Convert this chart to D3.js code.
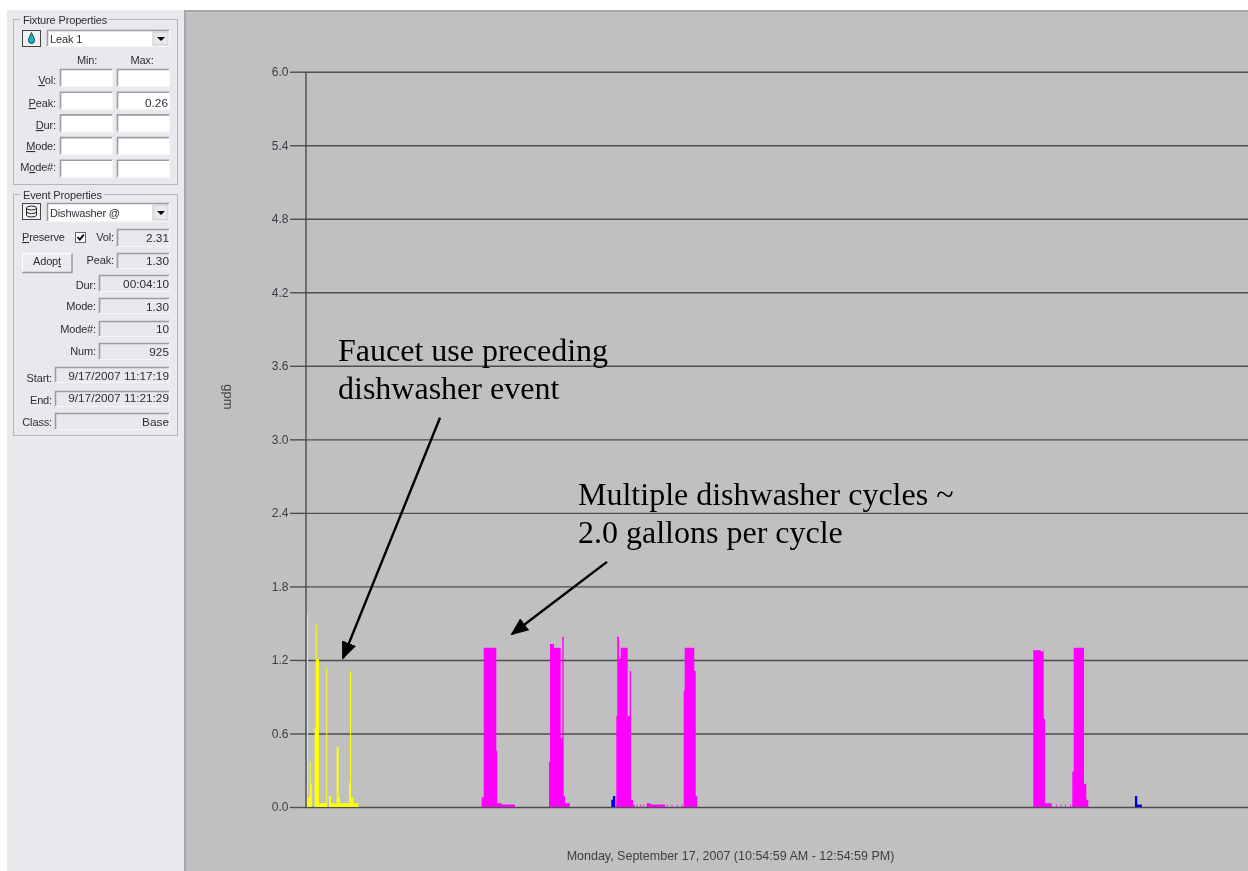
<!DOCTYPE html>
<html>

<head>
    <meta charset="utf-8">
    <title>Dishwasher flow trace</title>
    <script src="https://d3js.org/d3.v7.min.js"></script>
    <style>
        html, body { margin: 0; padding: 0; background: #fff; overflow: hidden; }
        svg { display: block; }
        text { font-family: "Liberation Sans", Arial, sans-serif; }
    </style>
</head>

<body>
    <svg id="chart" width="1248" height="871"></svg>

    <script>
        // y axis ticks, gpm
        const yTicks = [0.0, 0.6, 1.2, 1.8, 2.4, 3.0, 3.6, 4.2, 4.8, 5.4, 6.0];

        // flow bars: [start minute after 10:54:59, end minute, gpm]
        const faucetBars = [
            [0.13, 0.72, 0.08], [0.13, 0.25, 1.58], [0.46, 0.59, 0.37], [0.59, 0.72, 0.19],
            [1.09, 1.63, 0.65], [1.22, 1.34, 1.49], [1.34, 1.63, 1.21], [1.63, 2.67, 0.03],
            [2.55, 2.67, 1.14], [2.89, 3.14, 0.09], [3.14, 6.57, 0.03], [3.85, 4.10, 0.49],
            [3.98, 4.27, 0.08], [5.40, 5.65, 0.20], [5.52, 5.65, 1.11], [5.65, 5.94, 0.08]
        ];
        const dishwasherBars = [
            [22.05, 22.31, 0.08], [22.31, 23.89, 1.30], [23.89, 24.01, 0.46], [24.01, 24.56, 0.03], [24.56, 26.23, 0.02],
            [30.50, 30.63, 0.37], [30.63, 31.13, 1.33], [31.13, 31.97, 1.30], [31.97, 32.34, 0.56], [32.17, 32.34, 1.39],
            [32.34, 32.51, 0.09], [32.51, 33.14, 0.03],
            [38.95, 39.07, 0.74], [39.07, 39.29, 1.39], [39.29, 39.50, 1.21], [39.50, 40.38, 1.30], [40.38, 40.80, 0.74],
            [40.63, 40.80, 1.11], [40.80, 41.05, 0.06], [41.05, 41.23, 0.02],
            [41.51, 41.61, 0.02], [41.92, 42.02, 0.02], [42.34, 42.44, 0.02],
            [42.76, 43.26, 0.03], [43.26, 45.06, 0.02],
            [45.28, 45.38, 0.02], [45.90, 46.00, 0.02], [46.53, 46.63, 0.02], [47.16, 47.26, 0.02],
            [47.41, 47.53, 0.95], [47.53, 48.74, 1.30], [48.74, 48.92, 1.11], [48.92, 49.12, 0.09],
            [91.29, 92.22, 1.28], [92.22, 92.60, 1.27], [92.60, 92.76, 0.72], [92.76, 93.60, 0.03],
            [94.14, 94.24, 0.02], [94.73, 94.83, 0.02], [95.31, 95.41, 0.02], [95.90, 96.00, 0.02],
            [96.19, 96.37, 0.29], [96.37, 97.66, 1.30], [97.66, 97.95, 0.19], [97.95, 98.20, 0.06]
        ];
        const otherBars = [
            [38.32, 38.53, 0.06], [38.53, 38.82, 0.09],
            [104.05, 104.34, 0.09], [104.34, 104.93, 0.02]
        ];

        const dateLabel = 'Monday, September 17, 2007 (10:54:59 AM - 12:54:59 PM)';
        const faucetNote = ['Faucet use preceding', 'dishwasher event'];
        const cycleNote = ['Multiple dishwasher cycles ~', '2.0 gallons per cycle'];
        // arrows: [from minute, from gpm, to minute, to gpm]
        const noteArrows = [
            [16.82, 3.176, 4.64, 1.216],
            [37.78, 2.00, 25.86, 1.412]
        ];

        // left panel text: [label, underlined letter, min, max]
        const fixtureRows = [
            ['Vol:', 0, '', ''], ['Peak:', 0, '', '0.26'], ['Dur:', 0, '', ''],
            ['Mode:', 0, '', ''], ['Mode#:', 1, '', '']
        ];
        const eventRows = [
            ['Vol:', '2.31'], ['Peak:', '1.30'], ['Dur:', '00:04:10'],
            ['Mode:', '1.30'], ['Mode#:', '10'], ['Num:', '925'],
            ['Start:', '9/17/2007 11:17:19'], ['End:', '9/17/2007 11:21:29'], ['Class:', 'Base']
        ];

        const svg = d3.select('#chart');

        // the reference is a scaled screenshot, so small things are a bit soft
        svg.append('defs').append('filter')
            .attr('id', 'soft').attr('filterUnits', 'userSpaceOnUse')
            .attr('x', 0).attr('y', 0).attr('width', 1248).attr('height', 871)
            .append('feGaussianBlur').attr('stdDeviation', 0.35);

        // backgrounds
        svg.append('rect').attr('x', 7).attr('y', 10).attr('width', 1241).attr('height', 861).attr('fill', '#e9e8ed');
        svg.append('rect').attr('x', 184).attr('y', 10).attr('width', 1064).attr('height', 861).attr('fill', '#a6a6aa');
        svg.append('rect').attr('x', 186).attr('y', 12).attr('width', 1062).attr('height', 859).attr('fill', '#c0c0c0');

        // scales
        const x = d3.scaleLinear().domain([0, 120]).range([306, 1262]);
        const y = d3.scaleLinear().domain([0, 6]).range([807, 71.7]);

        const plot = svg.append('g').attr('filter', 'url(#soft)');

        const gridColor = '#4e4e4e';
        const yAxis = d3.axisLeft(y).tickValues(yTicks).tickFormat(d3.format('.1f')).tickSize(16).tickPadding(1.5);
        const axisG = plot.append('g').attr('transform', 'translate(306,0)').call(yAxis);
        axisG.select('.domain').remove();
        axisG.selectAll('.tick line').attr('stroke', gridColor).attr('stroke-width', 1.4);
        axisG.selectAll('.tick').append('line')
            .attr('x1', 0).attr('x2', x(120) - x(0))
            .attr('stroke', gridColor).attr('stroke-width', 1.4);
        axisG.selectAll('.tick text').attr('fill', '#3c3c46').style('font-size', '12px')
            .style('font-family', '"Liberation Sans", Arial, sans-serif');
        plot.append('line').attr('x1', x(0)).attr('x2', x(0)).attr('y1', y(6)).attr('y2', y(0))
            .attr('stroke', gridColor).attr('stroke-width', 1.4);

        // bars of a series go into one path, abutting rects would leave seams
        function drawBars(bars, color) {
            const p = d3.path();
            bars.forEach(d => p.rect(x(d[0]), y(d[2]), x(d[1]) - x(d[0]), y(0) - y(d[2])));
            plot.append('path').attr('d', p.toString()).attr('fill', color);
        }
        drawBars(faucetBars, '#ffff00');
        drawBars(dishwasherBars, '#ff00ff');
        drawBars(otherBars, '#0000e6');

        // axis titles
        plot.append('text').attr('x', 730.5).attr('y', 860).attr('text-anchor', 'middle')
            .attr('fill', '#3c3c46').style('font-size', '12.5px').text(dateLabel);
        plot.append('text').attr('transform', 'translate(224,397) rotate(90)').attr('text-anchor', 'middle')
            .attr('fill', '#3c3c46').style('font-size', '13px').text('gpm');

        // annotations
        function drawNote(lines, left, firstBase) {
            svg.append('g').selectAll('text').data(lines).join('text')
                .attr('x', left)
                .attr('y', (d, i) => firstBase + i * 38.3)
                .attr('fill', '#000')
                .style('font-family', '"Liberation Serif", "Times New Roman", serif')
                .style('font-size', '32px')
                .text(d => d);
        }
        drawNote(faucetNote, 338, 361);
        drawNote(cycleNote, 578, 505);

        svg.select('defs').append('marker')
            .attr('id', 'arrowHead').attr('viewBox', '0 0 18 15').attr('refX', 16).attr('refY', 7.5)
            .attr('markerUnits', 'userSpaceOnUse').attr('markerWidth', 18).attr('markerHeight', 15)
            .attr('orient', 'auto')
            .append('path').attr('d', 'M0,0L18,7.5L0,15Z').attr('fill', '#000');
        svg.append('g').selectAll('line').data(noteArrows).join('line')
            .attr('x1', d => x(d[0])).attr('y1', d => y(d[1]))
            .attr('x2', d => x(d[2])).attr('y2', d => y(d[3]))
            .attr('stroke', '#000').attr('stroke-width', 2.4)
            .attr('marker-end', 'url(#arrowHead)');

        // ---- left panel ----
        const panel = svg.append('g').attr('filter', 'url(#soft)');
        const textColor = '#2e2e38';

        function label(str, px, py, anchor, under) {
            const t = panel.append('text').attr('x', px).attr('y', py).attr('text-anchor', anchor || 'start')
                .attr('fill', textColor).style('font-size', '11px').style('letter-spacing', '-0.15px');
            if (under === undefined || under < 0) { t.text(str); return t; }
            t.append('tspan').text(str.slice(0, under));
            t.append('tspan').style('text-decoration', 'underline').text(str[under]);
            t.append('tspan').text(str.slice(under + 1));
            return t;
        }

        // numbers sit wider than the labels in the original font
        function value(str, px, py) {
            panel.append('text').attr('x', px).attr('y', py).attr('text-anchor', 'end')
                .attr('fill', textColor).style('font-size', '11.8px').text(str);
        }

        function sunken(x0, y0, w, h, fill) {
            panel.append('rect').attr('x', x0).attr('y', y0).attr('width', w).attr('height', h).attr('fill', fill);
            panel.append('path').attr('d', `M${x0 + .5},${y0 + h}V${y0 + .5}H${x0 + w}`)
                .attr('fill', 'none').attr('stroke', '#9c9ca2').attr('stroke-width', 1.6);
            panel.append('path').attr('d', `M${x0 + w - .5},${y0}V${y0 + h - .5}H${x0}`)
                .attr('fill', 'none').attr('stroke', '#f6f6f8').attr('stroke-width', 1);
        }

        function groupBox(x0, y0, w, h, title, titleWidth) {
            panel.append('rect').attr('x', x0 + .5).attr('y', y0 + .5).attr('width', w).attr('height', h)
                .attr('fill', 'none').attr('stroke', '#b4b4ba');
            panel.append('rect').attr('x', x0 + 7).attr('y', y0 - 2).attr('width', titleWidth).attr('height', 5).attr('fill', '#e9e8ed');
            label(title, x0 + 10, y0 + 5);
        }

        function dropdown(y0, h, str) {
            sunken(47, y0, 123, h, '#fff');
            panel.append('rect').attr('x', 153).attr('y', y0 + 2).attr('width', 15).attr('height', h - 4)
                .attr('fill', '#e9e8ed').attr('stroke', '#c8c8cc');
            const mid = y0 + h / 2;
            panel.append('path').attr('d', `M157,${mid - 1.5}h8l-4,4Z`).attr('fill', '#000');
            label(str, 50, y0 + h / 2 + 4);
        }

        function iconBox(y0) {
            panel.append('rect').attr('x', 22.5).attr('y', y0 + .5).attr('width', 18).attr('height', 16)
                .attr('fill', '#f1f1f4').attr('stroke', '#444').attr('stroke-width', 1);
        }

        groupBox(13, 19, 164, 165, 'Fixture Properties', 88);
        iconBox(30);
        panel.append('path').attr('d', 'M31.5,32.5C30,36 28.5,38 28.5,40.5A3,3 0 0 0 34.5,40.5C34.5,38 33,36 31.5,32.5Z')
            .attr('fill', '#10b8c8').attr('stroke', '#123').attr('stroke-width', .8);
        dropdown(30, 17, 'Leak 1');
        label('Min:', 87, 64, 'middle');
        label('Max:', 142, 64, 'middle');

        const fixtureBase = [84, 107, 129, 150, 171];
        fixtureRows.forEach((r, i) => {
            const top = 69 + i * 22.7;
            label(r[0], 56, fixtureBase[i], 'end', r[1]);
            sunken(60, top, 53, 18, '#fff');
            sunken(117, top, 53, 18, '#fff');
            if (r[3]) value(r[3], 168, fixtureBase[i]);
        });

        groupBox(13, 194, 164, 241, 'Event Properties', 84);
        iconBox(203);
        panel.append('ellipse').attr('cx', 31.5).attr('cy', 208).attr('rx', 5).attr('ry', 2).attr('fill', 'none').attr('stroke', '#222');
        panel.append('path').attr('d', 'M26.5,208V215A5,2 0 0 0 36.5,215V208M26.5,211.5A5,2 0 0 0 36.5,211.5')
            .attr('fill', 'none').attr('stroke', '#222');
        dropdown(203, 19, 'Dishwasher @');

        label('Preserve', 22, 241, 'start', 0);
        panel.append('rect').attr('x', 75.5).attr('y', 232.5).attr('width', 10).attr('height', 10)
            .attr('fill', '#fff').attr('stroke', '#666');
        panel.append('path').attr('d', 'M77.5,237l2.3,2.6l4,-5').attr('fill', 'none').attr('stroke', '#000').attr('stroke-width', 1.8);

        panel.append('rect').attr('x', 22).attr('y', 253).attr('width', 50).attr('height', 20).attr('fill', '#ecebf0');
        panel.append('path').attr('d', 'M22.5,273V253.5H72').attr('fill', 'none').attr('stroke', '#fff');
        panel.append('path').attr('d', 'M72,253.5V272.5H22').attr('fill', 'none').attr('stroke', '#97979c').attr('stroke-width', 1.4);
        label('Adopt', 47, 265, 'middle', 4);

        // event rows: box left edge, box top, box height, label baseline, value baseline
        const eventBoxes = [
            [117, 229, 18, 241, 242], [117, 253, 16, 264, 265], [99, 275, 17, 289, 288], [99, 298, 16, 310, 311],
            [99, 321, 16, 333, 333], [99, 343, 17, 355, 356], [55, 367, 16, 382, 380], [55, 391, 16, 404, 402],
            [55, 413, 17, 426, 426]
        ];
        eventRows.forEach((r, i) => {
            const b = eventBoxes[i];
            sunken(b[0], b[1], 170 - b[0], b[2], '#e9e8ed');
            label(r[0], b[0] - 3, b[3], 'end');
            value(r[1], 169, b[4]);
        });
    </script>

</body>

</html>
